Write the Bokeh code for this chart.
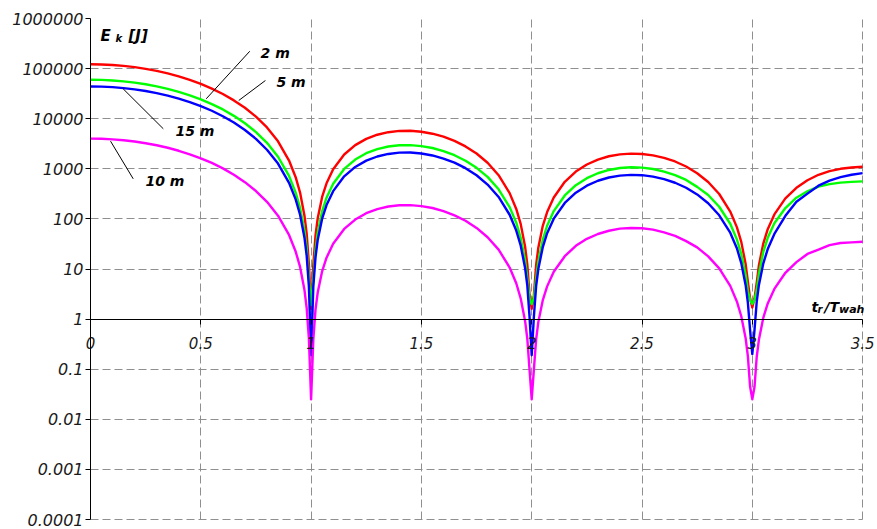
from bokeh.plotting import figure
from bokeh.models import (LinearAxis, LogAxis, FixedTicker, CustomJSTickFormatter,
                          Label, Range1d)
from bokeh.embed import file_html
from bokeh.resources import INLINE

# relative time t_r / T_wah
t = [0, 0.05, 0.1, 0.15, 0.2, 0.25, 0.3, 0.35, 0.4, 0.45, 0.5, 0.55, 0.6, 0.65, 0.7, 0.75, 0.8,
     0.85, 0.9, 0.93, 0.95, 0.97, 0.98, 0.99, 1.0,
     1.01, 1.02, 1.03, 1.05, 1.07, 1.1, 1.15, 1.2,
     1.25, 1.3, 1.35, 1.4, 1.45, 1.5, 1.55, 1.6, 1.65, 1.7, 1.75, 1.8,
     1.85, 1.9, 1.93, 1.95, 1.97, 1.98, 1.99, 2.0,
     2.01, 2.02, 2.03, 2.05, 2.07, 2.1, 2.15, 2.2,
     2.25, 2.3, 2.35, 2.4, 2.45, 2.5, 2.55, 2.6, 2.65, 2.7, 2.75, 2.8,
     2.85, 2.9, 2.93, 2.95, 2.97, 2.98, 2.99, 3.0,
     3.01, 3.02, 3.03, 3.05, 3.07, 3.1, 3.15, 3.2,
     3.25, 3.3, 3.35, 3.4, 3.45, 3.5]

# kinetic energy E_k [J]
ek_5m = [122000, 121000, 118000, 113200, 107000, 98900, 90000, 80100, 70000, 59500, 49400, 39900, 31100, 23200, 16500, 11000, 6700,
         3530, 1460, 680, 335, 116, 50.7, 12.4, 1.6,
         12.0, 46.8, 103, 274, 514, 976, 1930, 2970,
         3960, 4790, 5380, 5700, 5740, 5490, 5020, 4370, 3600, 2800, 2020, 1320,
         744, 327, 158, 79.6, 28.2, 12.4, 3.1, 1.6,
         3.0, 11.9, 26.6, 72, 137, 268, 551, 882,
         1220, 1530, 1780, 1940, 2010, 1980, 1850, 1650, 1400, 1110, 817, 545,
         314, 140, 68.5, 34.8, 12.4, 5.5, 2.6, 1.7,
         2.6, 5.3, 11.9, 32.5, 62.4, 123, 257, 417,
         590, 760, 900, 1000, 1060, 1100]

ek_2m = [60000, 59500, 58000, 55700, 52500, 48600, 44200, 39400, 34400, 29300, 24300, 19600, 15300, 11400, 8100, 5400, 3300,
         1740, 720, 335, 166, 58, 25.5, 6.5, 1.9,
         6.2, 24, 53, 142, 265, 504, 995, 1530,
         2050, 2470, 2790, 2950, 2970, 2840, 2600, 2260, 1865, 1450, 1045, 690,
         390, 172, 84, 42, 15, 6.6, 2.6, 2.0,
         2.6, 6.4, 14.2, 38, 73, 143, 294, 470,
         650, 815, 948, 1035, 1072, 1055, 990, 880, 745, 600, 436, 300,
         175, 80, 39, 20, 7.5, 3.6, 2.4, 2.0,
         2.4, 3.8, 8.0, 22, 42, 82, 165, 265,
         355, 440, 495, 530, 548, 560]

ek_15m = [44000, 43600, 42600, 40800, 38500, 35700, 32400, 28900, 25200, 21500, 17800, 14400, 11200, 8380, 5950, 3960, 2400,
          1270, 526, 245, 121, 42, 18.3, 4.5, 0.19,
          4.4, 17.2, 38, 101, 189, 358, 708, 1090,
          1456, 1760, 1980, 2100, 2110, 2020, 1847, 1600, 1327, 1030, 743, 485,
          274, 121, 58.5, 29.5, 10.5, 4.7, 1.15, 0.19,
          1.13, 4.5, 10, 27, 52, 101, 208, 333,
          460, 577, 670, 732, 757, 746, 699, 624, 527, 418, 308, 205,
          118, 53, 26, 13.1, 4.7, 2.1, 0.6, 0.2,
          0.6, 2.2, 4.8, 13, 25, 50, 115, 220,
          320, 460, 580, 680, 760, 820]

ek_10m = [4000, 3970, 3870, 3710, 3500, 3240, 2950, 2630, 2290, 1950, 1620, 1310, 1020, 762, 541, 360, 219,
          116, 47.8, 22.3, 11, 3.8, 1.66, 0.41, 0.025,
          0.39, 1.54, 3.4, 9.0, 16.8, 32, 63, 97,
          130, 157, 177, 187, 188, 180, 165, 143, 118, 92, 66, 43,
          24.4, 10.7, 5.2, 2.6, 0.92, 0.41, 0.1, 0.025,
          0.099, 0.39, 0.87, 2.36, 4.5, 8.8, 18, 29,
          40, 50, 58, 64, 66, 65, 61, 54, 46, 36, 27, 17.9,
          10.3, 4.6, 2.25, 1.14, 0.41, 0.18, 0.045, 0.025,
          0.044, 0.175, 0.39, 1.07, 2.05, 4.0, 8.4, 13.7,
          20, 24.4, 30, 33, 34, 35]

x_ticks = [0, 0.5, 1, 1.5, 2, 2.5, 3, 3.5]
y_ticks = [1e-4, 1e-3, 1e-2, 1e-1, 1, 10, 100, 1000, 1e4, 1e5, 1e6]

FONT = "DejaVu Sans"
W, H = 877, 529

# The frame fills the whole canvas; the data area (t 0..3.5, E 1e-4..1e6)
# sits inside it, so axis labels at its edges are never clipped.
PX_PER_T = 220.6
PX_PER_DECADE = 50.1
LEFT_PX, TOP_PX = 90, 18
x_lo = -LEFT_PX / PX_PER_T
x_hi = (W - LEFT_PX) / PX_PER_T
y_top_log = 6 + TOP_PX / PX_PER_DECADE
y_bot_log = y_top_log - H / PX_PER_DECADE

p = figure(width=W, height=H,
           x_range=Range1d(x_lo, x_hi),
           y_range=Range1d(10 ** y_bot_log, 10 ** y_top_log),
           y_axis_type="log", x_axis_location=None, y_axis_location=None,
           output_backend="svg", toolbar_location=None,
           min_border_left=0, min_border_right=0,
           min_border_top=0, min_border_bottom=0)
p.outline_line_color = None
p.background_fill_color = "white"
p.border_fill_color = "white"

# grid: dashed gray, limited to the data area
p.xgrid.ticker = FixedTicker(ticks=[v for v in x_ticks if v > 0])
p.ygrid.ticker = FixedTicker(ticks=[v for v in y_ticks if v not in (1, 1e6)])
p.xgrid.cross_bounds = (1e-4, 1e6)
p.ygrid.cross_bounds = (0, 3.5)
for g in (p.xgrid, p.ygrid):
    g.grid_line_color = "#8f8f8f"
    g.grid_line_dash = "8 4"
    g.grid_line_width = 1

# vertical energy axis at t = 0
yax = LogAxis(fixed_location=0, ticker=FixedTicker(ticks=y_ticks), bounds=(1e-4, 1e6),
              formatter=CustomJSTickFormatter(
                  code="return tick >= 1 ? tick.toFixed(0) : String(Number(tick.toPrecision(1)));"))
yax.axis_line_color = "black"
yax.major_tick_line_color = "black"
yax.major_tick_out = 5
yax.major_tick_in = 0
yax.minor_tick_line_color = None
yax.major_label_standoff = 2
yax.major_label_text_font = FONT
yax.major_label_text_font_style = "italic"
yax.major_label_text_font_size = "16px"
yax.major_label_text_color = "#1a1a1a"
p.add_layout(yax, "left")

# time axis drawn through E_k = 1
xax = LinearAxis(fixed_location=1, ticker=FixedTicker(ticks=x_ticks), bounds=(0, 3.5),
                 formatter=CustomJSTickFormatter(code="return String(tick);"))
xax.axis_line_color = "black"
xax.major_tick_line_color = "black"
xax.major_tick_out = 5
xax.major_tick_in = 0
xax.minor_tick_line_color = None
xax.major_label_standoff = 13
xax.major_label_text_font = FONT
xax.major_label_text_font_style = "italic"
xax.major_label_text_font_size = "15px"
xax.major_label_text_color = "#1a1a1a"
p.add_layout(xax, "below")

# energy curves
p.line(t, ek_5m, line_color="#ff0000", line_width=2.4, line_join="round")
p.line(t, ek_2m, line_color="#00ff00", line_width=2.4, line_join="round")
p.line(t, ek_15m, line_color="#0000ff", line_width=2.4, line_join="round")
p.line(t, ek_10m, line_color="#ff00ff", line_width=2.4, line_join="round")

# leader lines from the curve labels
leaders_x0 = [0.722, 0.793, 0.148, 0.091]
leaders_y0 = [222000, 57900, 39500, 3555]
leaders_x1 = [0.5245, 0.672, 0.33, 0.1936]
leaders_y1 = [24960, 23100, 6290, 631]
p.segment(leaders_x0, leaders_y0, leaders_x1, leaders_y1, line_color="black", line_width=1)

def add_text(x, y, text, size, baseline="alphabetic"):
    p.add_layout(Label(x=x, y=y, text=text, text_font=FONT,
                       text_font_style="bold italic", text_font_size=size,
                       text_color="black", text_baseline=baseline,
                       text_align="left"))

# curve labels
add_text(0.771, 209000, "2 m", "14px", "middle")
add_text(0.843, 55200, "5 m", "14px", "middle")
add_text(0.385, 5810, "15 m", "14px", "middle")
add_text(0.249, 584, "10 m", "14px", "middle")

# axis titles with subscripts
add_text(0.0453, 443000, "E", "15px")
add_text(0.1133, 408000, "k", "10px")
add_text(0.172, 443000, "[J]", "15px")

add_text(3.268, 1.745, "t", "14px")
add_text(3.296, 1.555, "r", "10px")
add_text(3.327, 1.745, "/T", "14px")
add_text(3.393, 1.555, "wah", "11px")

open("out.html", "w").write(file_html(p, INLINE))
